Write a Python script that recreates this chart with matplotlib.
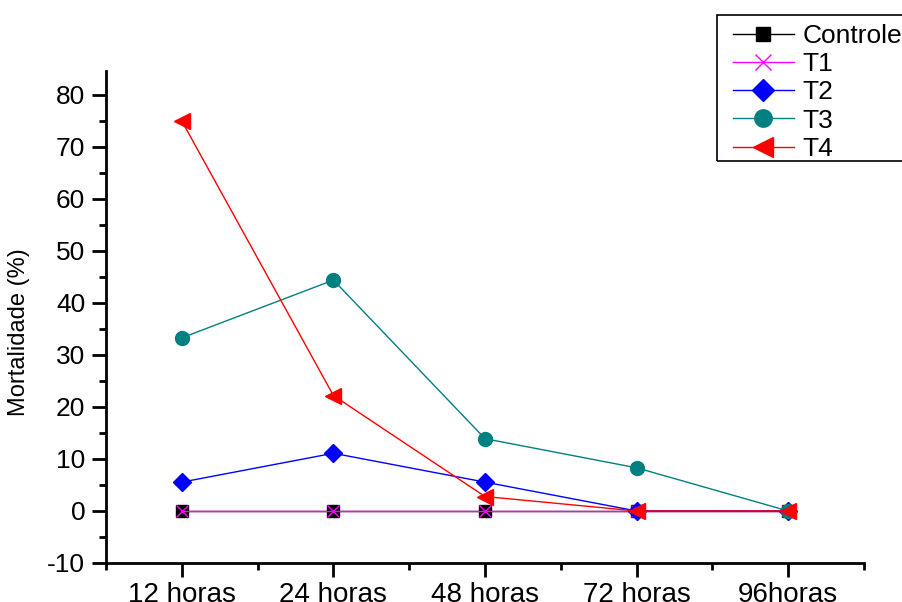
import numpy as np
import matplotlib.pyplot as plt
from matplotlib.patches import Rectangle
from matplotlib.ticker import MultipleLocator

plt.rcParams['font.family'] = ['Liberation Sans', 'DejaVu Sans']
plt.rcParams['axes.unicode_minus'] = False

tempos = ['12 horas', '24 horas', '48 horas', '72 horas', '96horas']
controle = [0, 0, 0, 0, 0]
t1 = [0, 0, 0, 0, 0]
t2 = [5.55, 11.1, 5.55, 0, 0]
t3 = [33.3, 44.4, 13.9, 8.3, 0]
t4 = [75, 22.2, 2.78, 0, 0]

x = np.arange(1, len(tempos) + 1)

fig = plt.figure(figsize=(9.02, 6.02), dpi=100)
ax = fig.add_axes([0.1175, 0.0648, 0.8405, 0.8172])

ax.plot(x, controle, color='black', lw=1, marker='s', ms=8, label='Controle')
ax.plot(x, t1, color='#ff00ff', lw=1, marker='x', ms=9, mew=1, label='T1')
ax.plot(x, t2, color='#0000ff', lw=1, marker='D', ms=9, label='T2')
ax.plot(x, t3, color='#008080', lw=1, marker='o', ms=10, label='T3')
ax.plot(x, t4, color='#ff0000', lw=1, marker='<', ms=11, label='T4')

ax.set_xlim(0.5, 5.5)
ax.set_ylim(-10, 84.6)
ax.set_xticks(x)
ax.set_xticklabels(tempos)
ax.xaxis.set_minor_locator(MultipleLocator(0.5))
ax.yaxis.set_major_locator(MultipleLocator(10))
ax.yaxis.set_minor_locator(MultipleLocator(5))

for s in ['top', 'right']:
    ax.spines[s].set_visible(False)
for s in ['left', 'bottom']:
    ax.spines[s].set_linewidth(2)

ax.tick_params(which='major', direction='out', length=10, width=2, pad=5)
ax.tick_params(which='minor', direction='out', length=5, width=2)
ax.tick_params(axis='y', labelsize=19)
ax.tick_params(axis='x', labelsize=20, pad=4)
ax.set_ylabel('Mortalidade (%)', fontsize=17)
ax.yaxis.set_label_coords(-0.1, 0.47)

# legend entries without frame; the box is drawn separately and runs off the right edge
leg = ax.legend(loc='upper left', bbox_to_anchor=(733 / 902, 1 - 24 / 602),
                bbox_transform=fig.transFigure, fontsize=19, frameon=False,
                borderaxespad=0, handlelength=2.3, labelspacing=0.16,
                handletextpad=0.34, borderpad=0, markerscale=1.25)
box = Rectangle((717 / 902, 1 - 161 / 602), 0.3, 146 / 602,
                transform=fig.transFigure, fill=False, edgecolor='black',
                lw=1.2, clip_on=False)
fig.patches.append(box)

fig.savefig('out.png', dpi=100)
